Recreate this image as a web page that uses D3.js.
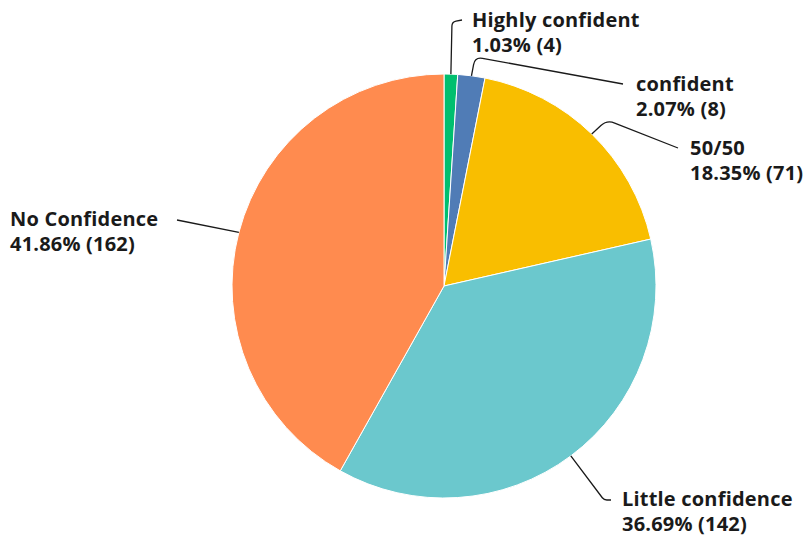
<!DOCTYPE html>
<html>
<head>
<meta charset="utf-8">
<script src="https://cdn.jsdelivr.net/npm/d3@7"></script>
<style>
  html, body { margin: 0; padding: 0; background: #fff; }
  svg { display: block; }
  text { font-family: "Open Sans", "Noto Sans", sans-serif; font-weight: 700; font-size: 20px; letter-spacing: 0.2px; fill: #1a1a1a; }
</style>
</head>
<body>
<svg id="chart" width="806" height="541"></svg>
<script>
const categories = ["Highly confident", "confident", "50/50", "Little confidence", "No Confidence"];
const counts = [4, 8, 71, 142, 162];
const percentLabels = ["1.03%", "2.07%", "18.35%", "36.69%", "41.86%"];
const colors = ["#00bf6f", "#507cb6", "#f9be00", "#6bc8cd", "#ff8b4f"];

// layout for labels (label anchor x, first baseline y) and leader bend points
const labelLayout = [
  { x: 472, y: 27, bend: [[452, 22]], end: [462, 20] },
  { x: 636, y: 91, bend: [[475, 57]], end: [623, 84] },
  { x: 690, y: 155, bend: [[607, 120]], end: [678, 148] },
  { x: 622, y: 506, bend: [[604, 500]], end: [611, 500] },
  { x: 10, y: 226, bend: [], end: [177, 220] }
];

const svg = d3.select("#chart");
const cx = 444, cy = 286, r = 212;
const g = svg.append("g").attr("transform", `translate(${cx},${cy})`);

const data = categories.map((c, i) => ({ name: c, value: counts[i], pct: percentLabels[i], color: colors[i], layout: labelLayout[i] }));
const pie = d3.pie().value(d => d.value).sort(null);
const arcs = pie(data);
const arc = d3.arc().innerRadius(0).outerRadius(r);

g.selectAll("path.slice").data(arcs).join("path")
  .attr("class", "slice")
  .attr("d", arc)
  .attr("fill", d => d.data.color)
  .attr("stroke", "#fff")
  .attr("stroke-width", 1);

// leader lines
arcs.forEach(a => {
  const mid = (a.startAngle + a.endAngle) / 2;
  const sx = cx + r * Math.sin(mid), sy = cy - r * Math.cos(mid);
  const L = a.data.layout;
  let p;
  if (L.bend.length === 0) {
    p = `M${sx},${sy} L${L.end[0]},${L.end[1]}`;
  } else {
    const b = L.bend[0];
    const dx1 = b[0] - sx, dy1 = b[1] - sy, len1 = Math.hypot(dx1, dy1);
    const dx2 = L.end[0] - b[0], dy2 = L.end[1] - b[1], len2 = Math.hypot(dx2, dy2);
    const rr = Math.min(10, len1 * 0.4, len2 * 0.4);
    const p1 = [b[0] - dx1 / len1 * rr, b[1] - dy1 / len1 * rr];
    const p2 = [b[0] + dx2 / len2 * rr, b[1] + dy2 / len2 * rr];
    p = `M${sx},${sy} L${p1[0]},${p1[1]} Q${b[0]},${b[1]} ${p2[0]},${p2[1]} L${L.end[0]},${L.end[1]}`;
  }
  svg.append("path").attr("d", p).attr("fill", "none").attr("stroke", "#1a1a1a").attr("stroke-width", 1.3);
});

// labels
arcs.forEach(a => {
  const L = a.data.layout;
  const t = svg.append("text").attr("x", L.x).attr("y", L.y);
  t.append("tspan").attr("x", L.x).text(a.data.name);
  t.append("tspan").attr("x", L.x).attr("dy", 25).text(`${a.data.pct} (${a.data.value})`);
});
</script>
</body>
</html>
